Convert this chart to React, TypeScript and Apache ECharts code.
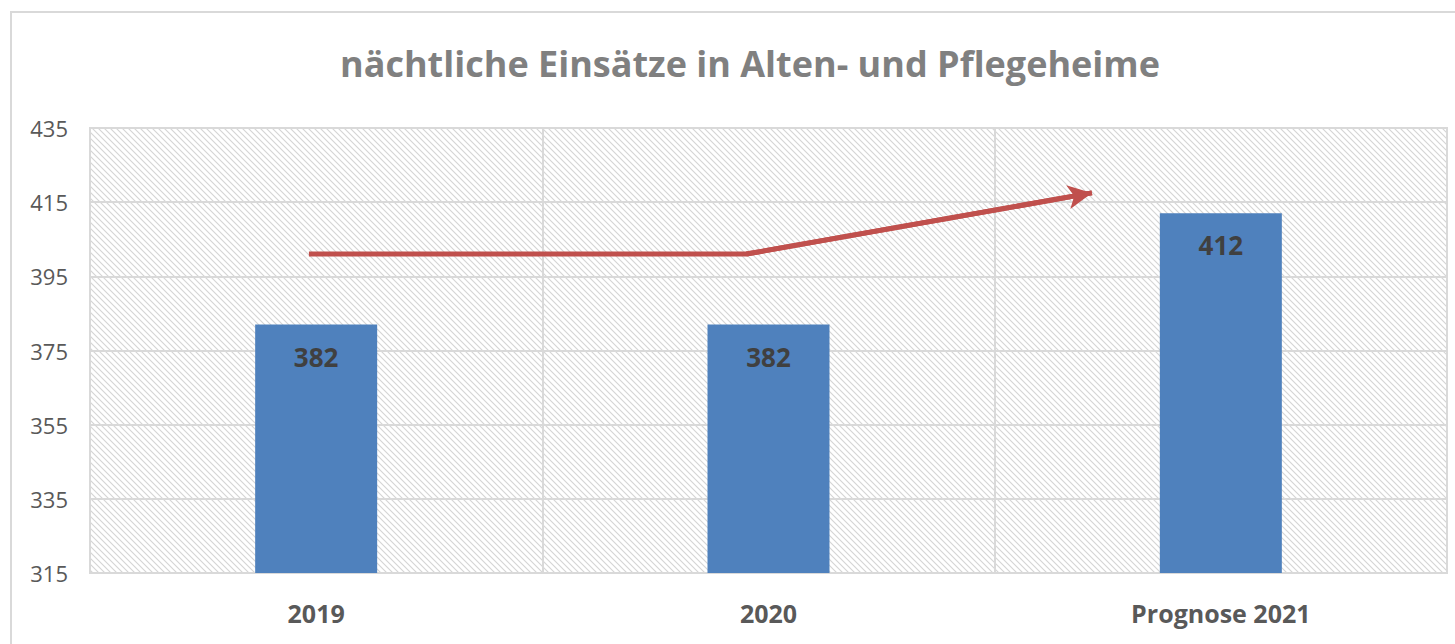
import React, { useEffect, useRef } from "react";
import * as echarts from "echarts";

const categories = ["2019", "2020", "Prognose 2021"];
const values = [382, 382, 412];
const trendX = [0.484, 1.451, 2.215];
const trendY = [401, 401, 417.5];
const yMin = 315;
const yMax = 435;
const yStep = 20;

const hatchSvg =
  "data:image/svg+xml;charset=utf-8," +
  encodeURIComponent(
    '<svg xmlns="http://www.w3.org/2000/svg" width="6" height="6">' +
      '<rect width="6" height="6" fill="#ffffff"/>' +
      '<path d="M0 0 L6 6 M-3 3 L3 9 M3 -3 L9 3" stroke="#d4d4d4" stroke-width="1.1"/>' +
      "</svg>"
  );

export default function App() {
  const ref = useRef<HTMLDivElement>(null);
  useEffect(() => {
    if (!ref.current) return;
    const chart = echarts.init(ref.current, undefined, { renderer: "svg" });
    const grid = "#d9d9d9";
    chart.setOption({
      animation: false,
      backgroundColor: "#ffffff",
      graphic: [
        {
          type: "rect",
          shape: { x: 11, y: 12, width: 1470, height: 660 },
          style: { fill: "none", stroke: "#d9d9d9", lineWidth: 2 },
          z: -1,
        },
      ],
      title: {
        text: "nächtliche Einsätze in Alten- und Pflegeheime",
        left: 745,
        textAlign: "center",
        top: 40,
        textStyle: {
          fontFamily: "Open Sans",
          fontSize: 36,
          fontWeight: "bold",
          color: "#808080",
        },
      },
      grid: {
        left: 90,
        right: 8,
        top: 128,
        bottom: 71,
        show: true,
        borderColor: grid,
        borderWidth: 2,
        backgroundColor: {
          image: hatchSvg,
          repeat: "repeat",
          imageWidth: 6,
          imageHeight: 6,
        },
      },
      xAxis: [
        {
          type: "category",
          data: categories,
          boundaryGap: true,
          axisLine: { lineStyle: { color: grid, width: 2 } },
          axisTick: { show: false },
          splitLine: { show: true, lineStyle: { color: grid, width: 2 } },
          axisLabel: {
            margin: 27,
            fontFamily: "Open Sans",
            fontSize: 25,
            fontWeight: "bold",
            color: "#595959",
          },
        },
        { type: "value", min: 0, max: 3, show: false },
      ],
      yAxis: {
        type: "value",
        min: yMin,
        max: yMax,
        interval: yStep,
        axisLine: { show: false },
        axisTick: { show: false },
        splitLine: { lineStyle: { color: grid, width: 2 } },
        axisLabel: {
          margin: 22,
          fontFamily: "Open Sans",
          fontSize: 22,
          color: "#595959",
        },
      },
      series: [
        {
          type: "bar",
          data: values,
          barWidth: 122,
          itemStyle: { color: "#4f81bd" },
          label: {
            show: true,
            position: "insideTop",
            distance: 19,
            fontFamily: "Open Sans",
            fontSize: 26,
            fontWeight: "bold",
            color: "#404040",
          },
        },
        {
          type: "line",
          xAxisIndex: 1,
          data: trendX.map((x, i) => [x, trendY[i]]),
          showSymbol: false,
          symbol: "none",
          lineStyle: { color: "#c0504d", width: 5 },
          z: 5,
          markLine: {
            silent: true,
            symbol: ["none", "arrow"],
            symbolSize: [18, 24],
            label: { show: false },
            lineStyle: { color: "#c0504d", width: 5, type: "solid" },
            data: [
              [
                { coord: [trendX[1], trendY[1]] },
                { coord: [trendX[2], trendY[2]] },
              ],
            ],
          },
        },
      ],
    });
    return () => chart.dispose();
  }, []);
  return (
    <div
      ref={ref}
      style={{ position: "fixed", left: 0, top: 0, width: 1455, height: 644 }}
    />
  );
}
